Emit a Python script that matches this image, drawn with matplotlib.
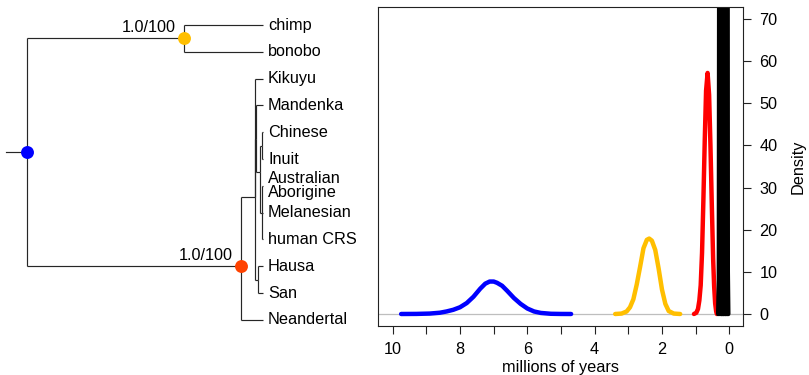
import matplotlib
matplotlib.use("Agg")
import matplotlib.pyplot as plt

plt.rcParams['font.family'] = ['Liberation Sans', 'DejaVu Sans']

# ---------------- tree data ----------------
tip_names = ["chimp", "bonobo", "Kikuyu", "Mandenka", "Chinese", "Inuit",
             "Australian\nAborigine", "Melanesian", "human CRS", "Hausa", "San",
             "Neandertal"]
tip_parent = ["CB", "CB", "M", "N1", "N3a", "N3a", "N3b", "N3b", "N3b", "HS", "HS", "HN"]

node_ids = ["root", "CB", "HN", "M", "N1", "N2", "N3a", "N3b", "HS"]
node_parent = [None, "root", "root", "HN", "M", "N1", "N2", "N2", "M"]
node_age = [7.01, 2.35, 0.65, 0.24, 0.215, 0.10, 0.04, 0.04, 0.15]   # millions of years
node_row = [4.75, 0.5, 9.0, 6.42, 4.25, 5.5, 4.5, 7.0, 9.5]
root_edge = 0.62

marked_nodes = ["root", "CB", "HN"]
marked_colors = ["#0000FF", "#FFBF00", "#FF4200"]
support_nodes = ["CB", "HN"]
support_labels = ["1.0/100", "1.0/100"]

# ---------------- density data ----------------
blue_x = [9.75, 9.3, 8.9, 8.6, 8.4, 8.2, 8.0, 7.8, 7.6, 7.4, 7.25, 7.12, 7.0, 6.9,
          6.75, 6.6, 6.4, 6.2, 6.0, 5.8, 5.6, 5.3, 5.0, 4.7]
blue_y = [0, 0.02, 0.1, 0.3, 0.6, 1.0, 1.6, 2.6, 4.1, 6.0, 7.2, 7.7, 7.7, 7.4,
          6.7, 5.5, 3.8, 2.4, 1.3, 0.6, 0.25, 0.05, 0.01, 0]

yellow_x = [3.39, 3.2, 3.05, 2.95, 2.85, 2.75, 2.65, 2.55, 2.45, 2.38, 2.30, 2.20,
            2.10, 2.00, 1.90, 1.80, 1.65, 1.46]
yellow_y = [0, 0.1, 0.6, 1.6, 3.5, 7.0, 11.2, 15.6, 17.6, 17.9, 17.4, 15.2,
            10.8, 5.8, 2.4, 0.7, 0.1, 0]

red_x = [1.05, 0.98, 0.93, 0.89, 0.85, 0.81, 0.77, 0.73, 0.69, 0.645, 0.60, 0.56,
         0.52, 0.48, 0.45, 0.42, 0.39, 0.37]
red_y = [0, 0.3, 1.2, 3.2, 6.8, 14.5, 27, 41, 53, 57.2, 52, 40,
         26, 13, 6.5, 2.5, 0.6, 0]

black1_x = [0.33, 0.31, 0.295, 0.28, 0.265, 0.25, 0.23]
black1_y = [0, 8, 120, 400, 120, 8, 0]
black2_x = [0.28, 0.26, 0.245, 0.23, 0.215, 0.20, 0.18]
black2_y = [0, 10, 150, 500, 150, 10, 0]
black3_x = [0.22, 0.20, 0.185, 0.17, 0.155, 0.14, 0.12]
black3_y = [0, 10, 150, 500, 150, 10, 0]
black4_x = [0.16, 0.14, 0.125, 0.11, 0.095, 0.08, 0.06]
black4_y = [0, 10, 150, 500, 150, 10, 0]
black5_x = [0.10, 0.085, 0.075, 0.065, 0.055, 0.045, 0.03]
black5_y = [0, 10, 150, 500, 150, 10, 0]

x_ticks = list(range(0, 11))
x_ticklabels = ["0", "", "2", "", "4", "", "6", "", "8", "", "10"]
y_ticks = [0, 10, 20, 30, 40, 50, 60, 70]

FS = 11.7
W, H = 809, 375
fig = plt.figure(figsize=(W / 100, H / 100), dpi=100)

# ---------------- tree panel ----------------
px_per_my = 33.67
tip_px = 263
tree_right_px = 378
tax = fig.add_axes([0, 0, tree_right_px / W, 1])
tax.axis('off')
tax.set_xlim(tip_px / px_per_my, (tip_px - tree_right_px) / px_per_my)
row0, row_px = 25, 26.8
tax.set_ylim((H - row0) / row_px, -row0 / row_px)

age = dict(zip(node_ids, node_age))
row = dict(zip(node_ids, node_row))
par = dict(zip(node_ids, node_parent))
for i, (n, p) in enumerate(zip(tip_names, tip_parent)):
    key = "tip%d" % i
    age[key] = 0.0
    row[key] = float(i)
    par[key] = p

lc = "#262626"
lw = 0.85
for key, p in par.items():
    if p is None:
        continue
    tax.plot([age[p], age[key]], [row[key], row[key]], color=lc, lw=lw, solid_capstyle='butt')
    tax.plot([age[p], age[p]], [row[p], row[key]], color=lc, lw=lw, solid_capstyle='butt')
tax.plot([age["root"] + root_edge, age["root"]], [row["root"], row["root"]], color=lc, lw=lw)

for n, c in zip(marked_nodes, marked_colors):
    tax.plot(age[n], row[n], 'o', ms=9.3, color=c, mec='none', zorder=5)

for n, s in zip(support_nodes, support_labels):
    tax.annotate(s, xy=(age[n], row[n]), xytext=(-5.8, 7.9), textcoords='offset points',
                 ha='right', va='center', fontsize=FS)

for i, n in enumerate(tip_names):
    tax.text(-5 / px_per_my, i, n, ha='left', va='center', fontsize=FS,
             linespacing=0.92, clip_on=False)

# ---------------- density panel ----------------
ax_l, ax_r, ax_t, ax_b = 378, 743, 7, 326
ax = fig.add_axes([ax_l / W, (H - ax_b) / H, (ax_r - ax_l) / W, (ax_b - ax_t) / H])
ax.set_xlim(10.437, -0.407)
ax.set_ylim(-2.85, 72.85)

ax.axhline(0, color="#BEBEBE", lw=0.9, zorder=1)
clw = 3.2
for xs, ys, c in [(blue_x, blue_y, "#0000FF"), (yellow_x, yellow_y, "#FFBF00"),
                  (red_x, red_y, "#FF0000"),
                  (black1_x, black1_y, "black"), (black2_x, black2_y, "black"),
                  (black3_x, black3_y, "black"), (black4_x, black4_y, "black"),
                  (black5_x, black5_y, "black")]:
    ax.plot(xs, ys, color=c, lw=clw, solid_capstyle='round', solid_joinstyle='round', zorder=2)

ax.set_xticks(x_ticks)
ax.set_xticklabels(x_ticklabels)
ax.yaxis.tick_right()
ax.yaxis.set_label_position('right')
ax.set_yticks(y_ticks)
ax.tick_params(axis='both', direction='out', length=5.8, width=0.8, labelsize=FS, color='#222222')
ax.tick_params(axis='x', pad=5.5)
ax.tick_params(axis='y', pad=6)
for s in ax.spines.values():
    s.set_linewidth(0.8)
    s.set_color('#222222')
ax.set_xlabel("millions of years", fontsize=FS, labelpad=2.5)
ax.set_ylabel("Density", fontsize=FS, labelpad=9.5)

fig.savefig("out.png", dpi=100)
